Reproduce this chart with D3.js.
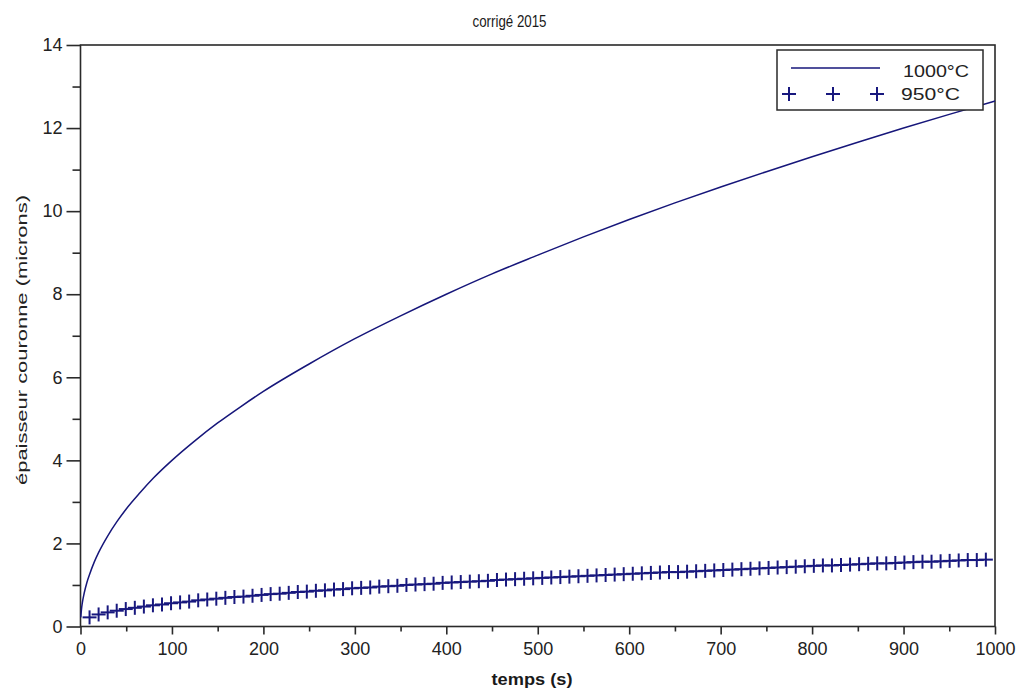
<!DOCTYPE html>
<html>
<head>
<meta charset="utf-8">
<script src="https://cdn.jsdelivr.net/npm/d3@7"></script>
<style>
  html, body { margin: 0; padding: 0; background: #fff; }
  svg { display: block; font-family: "Liberation Sans", Arial, sans-serif; }
</style>
</head>
<body>
<svg id="chart" width="1022" height="694"></svg>
<script>
// ---------- data ----------
const titleText = "corrigé 2015";
const xLabel = "temps (s)";
const yLabel = "épaisseur couronne (microns)";
const seriesNames = ["1000°C", "950°C"];

const xTicks = [0, 100, 200, 300, 400, 500, 600, 700, 800, 900, 1000];
const xMinorTicks = [50, 150, 250, 350, 450, 550, 650, 750, 850, 950];
const yTicks = [0, 2, 4, 6, 8, 10, 12, 14];
const yMinorTicks = [1, 3, 5, 7, 9, 11, 13];

// 1000°C curve (continuous line)
const t1000 = [0.3, 1, 2, 4, 7, 10, 15, 20, 30, 40, 50, 65, 80, 100, 125, 150, 175, 200, 250, 300,
  350, 400, 450, 500, 550, 600, 650, 700, 750, 800, 850, 900, 950, 1000];
const y1000 = [0.22, 0.4, 0.57, 0.8, 1.06, 1.26, 1.55, 1.79, 2.19, 2.53, 2.83, 3.22, 3.58, 4.0, 4.47, 4.9, 5.29, 5.66, 6.32, 6.93,
  7.48, 8.0, 8.49, 8.94, 9.38, 9.8, 10.2, 10.58, 10.95, 11.31, 11.66, 12.0, 12.33, 12.65];

// 950°C series (+ markers)
const t950 = [9.9, 19.8, 29.7, 39.6, 49.5, 59.4, 69.3, 79.2, 89.1, 99,
  108.9, 118.8, 128.7, 138.6, 148.5, 158.4, 168.3, 178.2, 188.1, 198,
  207.9, 217.8, 227.7, 237.6, 247.5, 257.4, 267.3, 277.2, 287.1, 297,
  306.9, 316.8, 326.7, 336.6, 346.5, 356.4, 366.3, 376.2, 386.1, 396,
  405.9, 415.8, 425.7, 435.6, 445.5, 455.4, 465.3, 475.2, 485.1, 495,
  504.9, 514.8, 524.7, 534.6, 544.5, 554.4, 564.3, 574.2, 584.1, 594,
  603.9, 613.8, 623.7, 633.6, 643.5, 653.4, 663.3, 673.2, 683.1, 693,
  702.9, 712.8, 722.7, 732.6, 742.5, 752.4, 762.3, 772.2, 782.1, 792,
  801.9, 811.8, 821.7, 831.6, 841.5, 851.4, 861.3, 871.2, 881.1, 891,
  900.9, 910.8, 920.7, 930.6, 940.5, 950.4, 960.3, 970.2, 980.1, 990];
const y950 = [0.22, 0.29, 0.34, 0.38, 0.42, 0.45, 0.48, 0.51, 0.53, 0.56,
  0.58, 0.60, 0.63, 0.65, 0.67, 0.69, 0.71, 0.72, 0.74, 0.76,
  0.78, 0.79, 0.81, 0.83, 0.84, 0.86, 0.87, 0.89, 0.90, 0.92,
  0.93, 0.94, 0.96, 0.97, 0.98, 1.00, 1.01, 1.02, 1.03, 1.05,
  1.06, 1.07, 1.08, 1.09, 1.10, 1.12, 1.13, 1.14, 1.15, 1.16,
  1.17, 1.18, 1.19, 1.20, 1.21, 1.22, 1.23, 1.24, 1.25, 1.26,
  1.27, 1.28, 1.29, 1.30, 1.31, 1.31, 1.32, 1.33, 1.34, 1.35,
  1.36, 1.37, 1.38, 1.39, 1.40, 1.41, 1.42, 1.43, 1.44, 1.45,
  1.46, 1.47, 1.47, 1.48, 1.49, 1.50, 1.51, 1.52, 1.52, 1.53,
  1.54, 1.55, 1.56, 1.56, 1.57, 1.58, 1.59, 1.60, 1.60, 1.61];

// ---------- layout ----------
const svg = d3.select("#chart");
const plot = { left: 80.5, right: 995, top: 45, bottom: 626.5 };
const lineColor = "#16167a";
const markerColor = "#18187e";
const axisColor = "#2a2a2a";

const x = d3.scaleLinear().domain([0, 1000]).range([plot.left, plot.right]);
const y = d3.scaleLinear().domain([0, 14]).range([plot.bottom, plot.top]);

function styleAxis(g) {
  g.select(".domain").remove();
  g.selectAll(".tick line").attr("stroke", axisColor).attr("stroke-width", 1.6);
  g.selectAll(".tick text").attr("fill", "#222").style("font-size", "18px")
    .style("font-family", '"Liberation Sans", Arial, sans-serif');
}

svg.append("g").attr("transform", `translate(0,${plot.bottom})`)
  .call(d3.axisBottom(x).tickValues(xMinorTicks).tickSize(5).tickFormat(""))
  .call(styleAxis);
svg.append("g").attr("transform", `translate(0,${plot.bottom})`)
  .call(d3.axisBottom(x).tickValues(xTicks).tickSize(8).tickPadding(8).tickFormat(d3.format("d")))
  .call(styleAxis);

svg.append("g").attr("transform", `translate(${plot.left},0)`)
  .call(d3.axisLeft(y).tickValues(yMinorTicks).tickSize(8).tickFormat(""))
  .call(styleAxis);
svg.append("g").attr("transform", `translate(${plot.left},0)`)
  .call(d3.axisLeft(y).tickValues(yTicks).tickSize(14).tickPadding(4).tickFormat(d3.format("d")))
  .call(styleAxis);

// frame
svg.append("rect")
  .attr("x", plot.left).attr("y", plot.top)
  .attr("width", plot.right - plot.left).attr("height", plot.bottom - plot.top)
  .attr("fill", "none").attr("stroke", axisColor).attr("stroke-width", 1.6);

// 1000°C line
const d1000 = t1000.map((t, i) => [t, y1000[i]]);
svg.append("path")
  .datum(d1000)
  .attr("fill", "none")
  .attr("stroke", lineColor)
  .attr("stroke-width", 1.5)
  .attr("d", d3.line().x(d => x(d[0])).y(d => y(d[1])).curve(d3.curveMonotoneX));

// 950°C markers
const d950 = t950.map((t, i) => [t, y950[i]]);
const ms = 7;
function plus(sel) {
  sel.append("line").attr("x1", -ms).attr("x2", ms).attr("y1", 0).attr("y2", 0);
  sel.append("line").attr("x1", 0).attr("x2", 0).attr("y1", -ms).attr("y2", ms);
}
svg.append("g").attr("stroke", markerColor).attr("stroke-width", 2)
  .selectAll("g").data(d950).join("g")
  .attr("transform", d => `translate(${x(d[0])},${y(d[1])})`)
  .each(function () { plus(d3.select(this)); });

// title
svg.append("text")
  .attr("x", 509.5).attr("y", 27)
  .attr("text-anchor", "middle")
  .attr("fill", "#1a1a1a")
  .style("font-size", "16.5px")
  .attr("textLength", 74).attr("lengthAdjust", "spacingAndGlyphs")
  .text(titleText);

// x label
svg.append("text")
  .attr("x", 532).attr("y", 685)
  .attr("text-anchor", "middle")
  .attr("fill", "#1a1a1a")
  .style("font-size", "16px")
  .style("font-weight", "bold")
  .attr("textLength", 81).attr("lengthAdjust", "spacingAndGlyphs")
  .text(xLabel);

// y label
svg.append("text")
  .attr("transform", "translate(27,340) rotate(-90)")
  .attr("text-anchor", "middle")
  .attr("fill", "#222")
  .style("font-size", "15px")
  .attr("textLength", 290).attr("lengthAdjust", "spacingAndGlyphs")
  .text(yLabel);

// legend
const lg = svg.append("g");
lg.append("rect")
  .attr("x", 777).attr("y", 50).attr("width", 206).attr("height", 60)
  .attr("fill", "#fff").attr("stroke", axisColor).attr("stroke-width", 1.5);
lg.append("line")
  .attr("x1", 791).attr("x2", 880).attr("y1", 68).attr("y2", 68)
  .attr("stroke", lineColor).attr("stroke-width", 1.5);
lg.append("text")
  .attr("x", 903).attr("y", 77)
  .attr("fill", "#222").style("font-size", "17px")
  .attr("textLength", 66).attr("lengthAdjust", "spacingAndGlyphs")
  .text(seriesNames[0]);
const legendMarks = [789, 833, 877];
lg.append("g").attr("stroke", markerColor).attr("stroke-width", 2)
  .selectAll("g").data(legendMarks).join("g")
  .attr("transform", d => `translate(${d},94)`)
  .each(function () { plus(d3.select(this)); });
lg.append("text")
  .attr("x", 901).attr("y", 100)
  .attr("fill", "#222").style("font-size", "17px")
  .attr("textLength", 59).attr("lengthAdjust", "spacingAndGlyphs")
  .text(seriesNames[1]);
</script>
</body>
</html>
